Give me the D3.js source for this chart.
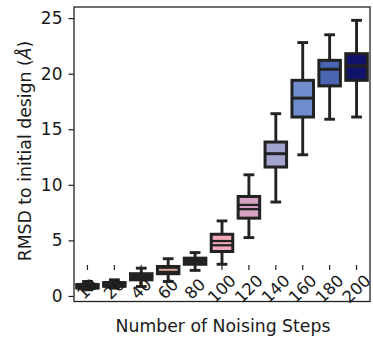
<!DOCTYPE html>
<html><head><meta charset="utf-8">
<script src="https://cdn.jsdelivr.net/npm/d3@7/dist/d3.min.js"></script>
<style>
body{margin:0;background:#fff;}
text{font-family:"DejaVu Sans",sans-serif;fill:#1a1a1a;}
</style></head>
<body><svg id="c" width="373" height="339"></svg>
<script>
const categories = ["10","20","40","60","80","100","120","140","160","180","200"];
const whiskerLow  = [0.55, 0.70, 0.85, 1.30, 2.30, 2.85, 5.25, 8.45, 12.7, 15.9, 16.1];
const q1          = [0.72, 0.87, 1.45, 2.00, 2.85, 4.00, 7.00, 11.6, 16.1, 18.9, 19.4];
const medians     = [0.88, 1.05, 1.75, 2.35, 3.10, 4.75, 8.00, 12.8, 17.8, 20.4, 20.7];
const q3          = [1.02, 1.20, 2.00, 2.65, 3.40, 5.55, 8.95, 13.85, 19.4, 21.2, 21.8];
const whiskerHigh = [1.30, 1.45, 2.50, 3.35, 3.90, 6.75, 10.9, 16.4, 22.8, 23.5, 24.8];
const colors = ["#b88a7c","#c9958a","#d49f94","#d9a89a","#e6a9ad","#f4a9bb","#d6a2c4","#a3a4cf","#6e8ecd","#4a66b2","#10126c"];
const yTicks = [0,5,10,15,20,25];

const svg = d3.select("#c");
const m = {l:74, r:370, t:7, b:301.5};
const x = d3.scaleBand().domain(categories).range([m.l, m.r]).paddingInner(0).paddingOuter(0);
const y = d3.scaleLinear().domain([-0.5, 26]).range([m.b, m.t]);
const ink = "#222";
const bw = x.bandwidth()*0.8;
const lw = 2.9;

const data = categories.map((c,i)=>({c, lo:whiskerLow[i], q1:q1[i], med:medians[i], q3:q3[i], hi:whiskerHigh[i], col:colors[i], i}));

// x tick marks (drawn inside plot)
svg.append("g").selectAll("line").data(categories).join("line")
  .attr("x1", d=>x(d)+x.bandwidth()/2).attr("x2", d=>x(d)+x.bandwidth()/2)
  .attr("y1", 265).attr("y2", 270).attr("stroke", ink).attr("stroke-width", 1.2);

const g = svg.append("g").selectAll("g").data(data).join("g")
  .attr("transform", d=>`translate(${x(d.c)+x.bandwidth()/2},0)`);
g.append("line").attr("y1", d=>y(d.q3)).attr("y2", d=>y(d.hi)).attr("stroke", ink).attr("stroke-width", lw);
g.append("line").attr("y1", d=>y(d.q1)).attr("y2", d=>y(d.lo)).attr("stroke", ink).attr("stroke-width", lw);
g.append("line").attr("x1", -bw/4).attr("x2", bw/4).attr("y1", d=>y(d.hi)).attr("y2", d=>y(d.hi)).attr("stroke", ink).attr("stroke-width", lw);
g.append("line").attr("x1", -bw/4).attr("x2", bw/4).attr("y1", d=>y(d.lo)).attr("y2", d=>y(d.lo)).attr("stroke", ink).attr("stroke-width", lw);
g.append("rect").attr("x", -bw/2).attr("width", bw)
  .attr("y", d=>y(d.q3)).attr("height", d=>y(d.q1)-y(d.q3))
  .attr("fill", d=>d.col).attr("stroke", ink).attr("stroke-width", 3);
g.append("line").attr("x1", -bw/2).attr("x2", bw/2).attr("y1", d=>y(d.med)).attr("y2", d=>y(d.med))
  .attr("stroke", ink).attr("stroke-width", d=>d.i<=6?6.5:3);
g.filter(d=>d.i===3 || d.i===5 || d.i===6).append("line").attr("x1", -bw/2+1.5).attr("x2", bw/2-1.5).attr("y1", d=>y(d.med)).attr("y2", d=>y(d.med))
  .attr("stroke", d=>d.col).attr("stroke-width", 2);

// x tick labels inside plot, rotated
svg.append("g").selectAll("text").data(categories).join("text")
  .attr("transform", d=>`translate(${x(d)+x.bandwidth()/2},289) rotate(-45)`)
  .attr("text-anchor","middle").attr("dominant-baseline","central")
  .attr("font-size", 16.5).text(d=>d);

// frame
svg.append("rect").attr("x", m.l).attr("y", m.t).attr("width", m.r-m.l).attr("height", m.b-m.t)
  .attr("fill","none").attr("stroke", ink).attr("stroke-width", 1.3);

// y axis
const ya = svg.append("g").attr("transform", `translate(${m.l},0)`)
  .call(d3.axisLeft(y).tickValues(yTicks).tickSize(5.5).tickPadding(6));
ya.select(".domain").remove();
ya.selectAll("line").attr("stroke", ink).attr("stroke-width", 1.2);
ya.selectAll("text").attr("font-size", 17).attr("fill", "#1a1a1a").style("font-family","DejaVu Sans");

// axis labels
svg.append("text").attr("x", 223).attr("y", 332).attr("text-anchor","middle").attr("font-size", 17.3)
  .text("Number of Noising Steps");
const yl = svg.append("text").attr("transform","translate(31,151) rotate(-90)").attr("text-anchor","middle").attr("font-size", 17.3);
yl.append("tspan").text("RMSD to initial design (");
yl.append("tspan").attr("font-style","italic").text("Å");
yl.append("tspan").text(")");
</script></body></html>
